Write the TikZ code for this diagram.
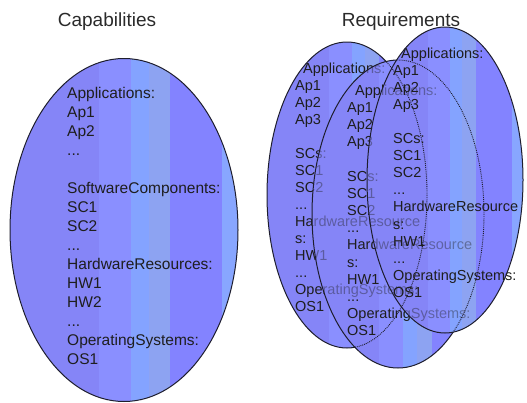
\documentclass[tikz,border=0pt]{standalone}
\usepackage{fontspec}
\setmainfont{Liberation Sans}
\definecolor{sA}{HTML}{8585F7}
\definecolor{sB}{HTML}{8A8FFF}
\definecolor{sC}{HTML}{84A3FF}
\definecolor{sD}{HTML}{8DA3F2}
\definecolor{sE}{HTML}{8383FF}
\definecolor{sF}{HTML}{88A6FF}
\definecolor{txtc}{HTML}{1E1E1E}
\definecolor{titlec}{HTML}{2A2A2A}
\definecolor{rimc}{HTML}{1E1E2E}
\tikzset{
  ttl/.style={font=\fontsize{19}{22}\selectfont, text=titlec, inner sep=0pt, anchor=base},
  txtL/.style={font=\fontsize{15.5}{18}\selectfont, text=txtc, inner sep=0pt, anchor=base west},
  txtR/.style={font=\fontsize{14.5}{17}\selectfont, text=txtc, inner sep=0pt, anchor=base west},
  rim/.style={draw=rimc, line width=1pt},
  hidrim/.style={draw=rimc, line width=0.9pt, densely dotted},
  faded/.style={opacity=0.4, text opacity=0.4}
}
\newcommand{\stripes}[4]{%
  \begin{scope}
    \clip (#1,#2) ellipse [x radius=#3, y radius=#4];
    \fill[sA] ({#1-#3-1},{#2-#4-1}) rectangle ({#1-0.22*#3+0.5},{#2+#4+1});
    \fill[sB] ({#1-0.22*#3},{#2-#4-1}) rectangle ({#1+0.06*#3+0.5},{#2+#4+1});
    \fill[sC] ({#1+0.06*#3},{#2-#4-1}) rectangle ({#1+0.22*#3+0.5},{#2+#4+1});
    \fill[sD] ({#1+0.22*#3},{#2-#4-1}) rectangle ({#1+0.40*#3+0.5},{#2+#4+1});
    \fill[sE] ({#1+0.40*#3},{#2-#4-1}) rectangle ({#1+0.86*#3+0.5},{#2+#4+1});
    \fill[sF] ({#1+0.86*#3},{#2-#4-1}) rectangle ({#1+#3+1},{#2+#4+1});
  \end{scope}}
\newcommand{\rblock}[5]{%
  \node[txtR,#5] (#1l0) at (#2+8,#3) {Applications:};
  \node[txtR,#5] (#1l1) at (#2,#3+#4) {Ap1};
  \node[txtR,#5] (#1l2) at (#2,#3+2*#4) {Ap2};
  \node[txtR,#5] (#1l3) at (#2,#3+3*#4) {Ap3};
  \node[txtR,#5] (#1l5) at (#2,#3+5*#4) {SCs:};
  \node[txtR,#5] (#1l6) at (#2,#3+6*#4) {SC1};
  \node[txtR,#5] (#1l7) at (#2,#3+7*#4) {SC2};
  \node[txtR,#5] (#1l8) at (#2,#3+8*#4) {...};
  \node[txtR,#5] (#1l9) at (#2,#3+9*#4) {HardwareResource};
  \node[txtR,#5] (#1l10) at (#2,#3+10*#4) {s:};
  \node[txtR,#5] (#1l11) at (#2,#3+11*#4) {HW1};
  \node[txtR,#5] (#1l12) at (#2,#3+12*#4) {...};
  \node[txtR,#5] (#1l13) at (#2,#3+13*#4) {OperatingSystems:};
  \node[txtR,#5] (#1l14) at (#2,#3+14*#4) {OS1};
}
\begin{document}
\begin{tikzpicture}[x=1pt,y=-1pt]
  \useasboundingbox (0,0) rectangle (527,402);
  % titles
  \node[ttl] (capt) at (107,26) {Capabilities};
  \node[ttl] (reqt) at (401,26) {Requirements};
  % capabilities ellipse
  \stripes{124}{230}{114}{171.5}
  \draw[rim] (124,230) ellipse [x radius=114, y radius=171.5];
  \node[txtL] (c0) at (67,98.5) {Applications:};
  \node[txtL] (c1) at (67,117.5) {Ap1};
  \node[txtL] (c2) at (67,136.5) {Ap2};
  \node[txtL] (c3) at (67,155.5) {...};
  \node[txtL] (c5) at (67,193.5) {SoftwareComponents:};
  \node[txtL] (c6) at (67,212.5) {SC1};
  \node[txtL] (c7) at (67,231.5) {SC2};
  \node[txtL] (c8) at (67,250.5) {...};
  \node[txtL] (c9) at (67,269.5) {HardwareResources:};
  \node[txtL] (c10) at (67,288.5) {HW1};
  \node[txtL] (c11) at (67,307.5) {HW2};
  \node[txtL] (c12) at (67,326.5) {...};
  \node[txtL] (c13) at (67,345.5) {OperatingSystems:};
  \node[txtL] (c14) at (67,364.5) {OS1};
  % requirement A
  \stripes{347}{195}{80}{153}
  \rblock{A}{295}{73}{17}{}
  \draw[rim] (347,195) ellipse [x radius=80, y radius=153];
  % requirement B
  \stripes{398}{214}{86}{154}
  \begin{scope}
    \clip (398,214) ellipse [x radius=86, y radius=154];
    \rblock{Ab}{295}{73}{17}{faded}
    \draw[hidrim] (347,195) ellipse [x radius=80, y radius=153];
  \end{scope}
  \rblock{B}{347}{95}{17.2}{}
  \draw[rim] (398,214) ellipse [x radius=86, y radius=154];
  % requirement C
  \stripes{445}{180}{78}{153}
  \begin{scope}
    \clip (445,180) ellipse [x radius=78, y radius=153];
    \rblock{Ac}{295}{73}{17}{faded}
    \rblock{Bc}{347}{95}{17.2}{faded}
    \draw[hidrim] (347,195) ellipse [x radius=80, y radius=153];
    \draw[hidrim] (398,214) ellipse [x radius=86, y radius=154];
  \end{scope}
  \rblock{C}{393}{58.5}{17.05}{}
  \draw[rim] (445,180) ellipse [x radius=78, y radius=153];
\end{tikzpicture}
\end{document}
